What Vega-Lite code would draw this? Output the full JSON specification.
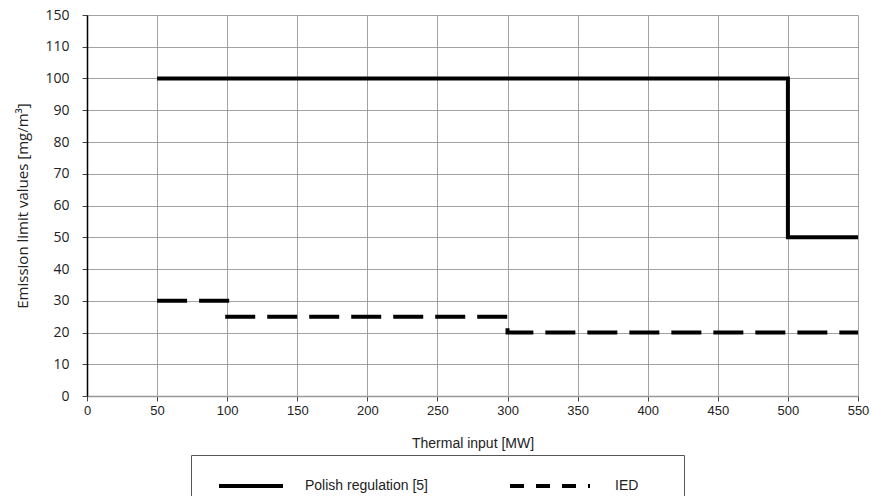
{
  "$schema": "https://vega.github.io/schema/vega-lite/v6.json",
  "autosize": {"type": "none"},
  "width": 771,
  "height": 381,
  "padding": {"left": 87, "top": 15, "right": 15, "bottom": 100},
  "background": "white",
  "config": {
    "font": "Liberation Sans",
    "view": {"stroke": null},
    "axis": {
      "labelFont": "Liberation Sans",
      "labelFontSize": 13,
      "labelColor": "#222",
      "titleFont": "Liberation Sans",
      "titleFontSize": 14,
      "titleFontWeight": "normal",
      "titleColor": "#222",
      "gridColor": "#8a8a8a",
      "gridWidth": 0.8,
      "tickColor": "#444",
      "domainColor": "#000",
      "labelFlush": false
    }
  },
  "data": {
    "values": [
      {"series": "Polish regulation [5]", "i": 1, "x": 50, "y": 100},
      {"series": "Polish regulation [5]", "i": 2, "x": 500, "y": 100},
      {"series": "Polish regulation [5]", "i": 3, "x": 500, "y": 50},
      {"series": "Polish regulation [5]", "i": 4, "x": 550, "y": 50},
      {"series": "IED", "i": 1, "x": 50, "y": 30},
      {"series": "IED", "i": 2, "x": 100, "y": 30},
      {"series": "IED", "i": 3, "x": 100, "y": 25},
      {"series": "IED", "i": 4, "x": 300, "y": 25},
      {"series": "IED", "i": 5, "x": 300, "y": 20},
      {"series": "IED", "i": 6, "x": 550, "y": 20}
    ]
  },
  "mark": {"type": "line", "strokeWidth": 4, "strokeCap": "butt"},
  "encoding": {
    "x": {
      "field": "x",
      "type": "quantitative",
      "scale": {"domain": [0, 550], "nice": false, "zero": false},
      "axis": {
        "values": [0, 50, 100, 150, 200, 250, 300, 350, 400, 450, 500, 550],
        "title": "Thermal input [MW]",
        "tickSize": 5,
        "labelPadding": 3,
        "titlePadding": 19,
        "domainColor": "#999",
        "domainWidth": 1.5
      }
    },
    "y": {
      "field": "y",
      "type": "quantitative",
      "scale": {"domain": [0, 120], "nice": false},
      "axis": {
        "values": [0, 10, 20, 30, 40, 50, 60, 70, 80, 90, 100, 110, 120],
        "labelExpr": "datum.value == 120 ? '150' : datum.label",
        "labelFont": "Open Sans",
        "labelFontSize": 14,
        "title": "Emission limit values [mg/m³]",
        "titleFont": "Open Sans",
        "titleFontSize": 15,
        "tickSize": 5,
        "labelPadding": 13,
        "titlePadding": 14,
        "domainWidth": 1.5
      }
    },
    "strokeDash": {
      "field": "series",
      "type": "nominal",
      "scale": {"domain": ["IED", "Polish regulation [5]"], "range": [[30, 12], [1, 0]]},
      "legend": null
    },
    "color": {
      "field": "series",
      "type": "nominal",
      "scale": {"domain": ["Polish regulation [5]", "IED"], "range": ["black", "black"]},
      "legend": {
        "orient": "none",
        "legendX": 104,
        "legendY": 440,
        "direction": "horizontal",
        "title": " ",
        "titleOrient": "right",
        "titlePadding": 20,
        "titleFontSize": 14,
        "symbolType": "stroke",
        "symbolSize": 6400,
        "symbolStrokeWidth": 4,
        "strokeColor": "#555",
        "padding": 26,
        "clipHeight": 10,
        "labelOffset": 5,
        "columnPadding": 80,
        "labelFontSize": 14,
        "labelFont": "Liberation Sans",
        "labelColor": "#222",
        "encode": {
          "symbols": {
            "update": {
              "strokeDash": {"signal": "datum.value == 'IED' ? [14, 12] : [64, 100]"}
            }
          },
          "labels": {
            "update": {
              "x": {"signal": "datum.offset + (datum.value == 'IED' ? 23 : 4)"}
            }
          }
        }
      }
    },
    "order": {"field": "i"}
  }
}
